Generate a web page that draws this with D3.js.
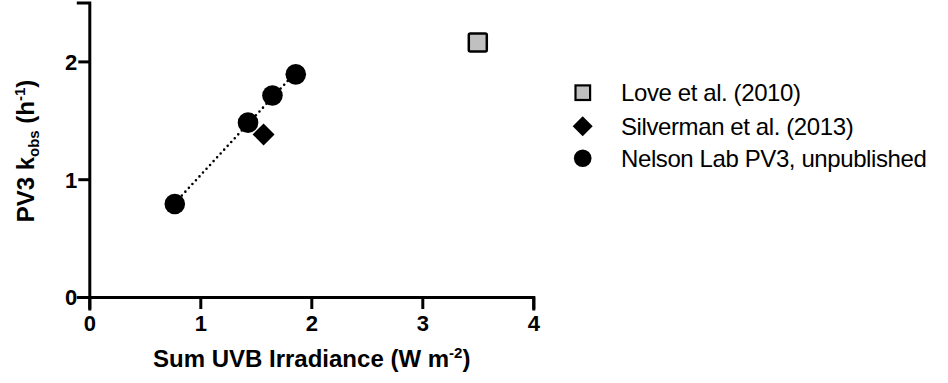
<!DOCTYPE html>
<html>
<head>
<meta charset="utf-8">
<script src="https://cdn.jsdelivr.net/npm/d3@7"></script>
<style>
  body { margin: 0; background: #fff; }
  svg { font-family: "Liberation Sans", Arial, sans-serif; }
</style>
</head>
<body>
<svg></svg>
<script>
// data
let loveX = [3.50]
let loveY = [2.16]
let silvermanX = [1.57]
let silvermanY = [1.38]
let nelsonX = [0.77, 1.43, 1.65, 1.86]
let nelsonY = [0.79, 1.48, 1.71, 1.89]

let xTicks = [0, 1, 2, 3, 4]
let yTicks = [0, 1, 2]
let legendNames = ['Love et al. (2010)', 'Silverman et al. (2013)', 'Nelson Lab PV3, unpublished']

let width = 948
let height = 383

let svg = d3.select('svg')
    .attr('width', width)
    .attr('height', height)

let xScale = d3.scaleLinear().domain([0, 4]).range([89.3, 533.3])
let yScale = d3.scaleLinear().domain([0, 2.5]).range([297, 2.5])

// axes
let xAxis = d3.axisBottom(xScale).tickValues(xTicks).tickSize(12).tickPadding(6).tickFormat(d3.format('d'))
let yAxis = d3.axisLeft(yScale).tickValues(yTicks).tickSize(11).tickPadding(1).tickFormat(d3.format('d'))

let gx = svg.append('g')
    .attr('transform', `translate(0, ${yScale(0)})`)
    .call(xAxis)
let gy = svg.append('g')
    .attr('transform', `translate(${xScale(0)}, 0)`)
    .call(yAxis)

;[gx, gy].forEach(g => {
    g.select('.domain').attr('stroke', '#000').attr('stroke-width', 3).attr('stroke-linecap', 'square')
    g.selectAll('.tick line').attr('stroke', '#000').attr('stroke-width', 3)
    g.selectAll('.tick text')
        .attr('fill', '#000')
        .style('font-size', '22px')
        .style('font-weight', 'bold')
        .style('font-family', '"Liberation Sans", Arial, sans-serif')
})
gy.selectAll('.tick text').attr('dy', '0.36em')

// axis titles
let xt = svg.append('text')
    .attr('x', 311.7)
    .attr('y', 367)
    .attr('text-anchor', 'middle')
    .style('font-size', '24px')
    .style('font-weight', 'bold')
xt.append('tspan').text('Sum UVB Irradiance (W m')
xt.append('tspan').attr('dy', -9).style('font-size', '15px').text('-2')
xt.append('tspan').attr('dy', 9).text(')')

let yt = svg.append('text')
    .attr('transform', 'translate(33.5, 151) rotate(-90)')
    .attr('text-anchor', 'middle')
    .style('font-size', '24px')
    .style('font-weight', 'bold')
yt.append('tspan').text('PV3 k')
yt.append('tspan').attr('dy', 5).style('font-size', '15px').text('obs')
yt.append('tspan').attr('dy', -5).text(' (h')
yt.append('tspan').attr('dy', -9).style('font-size', '15px').text('-1')
yt.append('tspan').attr('dy', 9).text(')')

// regression line through Nelson points
let mx = d3.mean(nelsonX), my = d3.mean(nelsonY)
let slope = d3.sum(nelsonX.map((x, i) => (x - mx) * (nelsonY[i] - my))) / d3.sum(nelsonX.map(x => (x - mx) * (x - mx)))
let icpt = my - slope * mx
let fitX = d3.extent(nelsonX)

svg.append('line')
    .attr('x1', xScale(fitX[0]))
    .attr('y1', yScale(icpt + slope * fitX[0]))
    .attr('x2', xScale(fitX[1]))
    .attr('y2', yScale(icpt + slope * fitX[1]))
    .attr('stroke', '#000')
    .attr('stroke-width', 2.6)
    .attr('stroke-linecap', 'round')
    .attr('stroke-dasharray', '0 5.2')

// markers
svg.selectAll('.love')
    .data(loveX)
    .enter()
    .append('rect')
    .attr('x', (d) => xScale(d) - 9)
    .attr('y', (d, i) => yScale(loveY[i]) - 9)
    .attr('width', 18)
    .attr('height', 18)
    .attr('rx', 1.5)
    .attr('fill', '#c0c0c0')
    .attr('stroke', '#000')
    .attr('stroke-width', 2.5)

svg.selectAll('.silv')
    .data(silvermanX)
    .enter()
    .append('path')
    .attr('d', 'M0,-11L11,0L0,11L-11,0Z')
    .attr('transform', (d, i) => `translate(${xScale(d)}, ${yScale(silvermanY[i])})`)
    .attr('fill', '#000')

svg.selectAll('.nelson')
    .data(nelsonX)
    .enter()
    .append('circle')
    .attr('cx', (d) => xScale(d))
    .attr('cy', (d, i) => yScale(nelsonY[i]))
    .attr('r', 10.3)
    .attr('fill', '#000')

// legend
let legend = svg.append('g')
let rowY = [92.7, 126.2, 158.3]
legend.append('rect')
    .attr('x', 575.5).attr('y', rowY[0] - 7.3)
    .attr('width', 14.6).attr('height', 14.6)
    .attr('fill', '#c0c0c0').attr('stroke', '#000').attr('stroke-width', 2.2)
legend.append('path')
    .attr('d', 'M0,-10L10,0L0,10L-10,0Z')
    .attr('transform', `translate(582.7, ${rowY[1]})`)
    .attr('fill', '#000')
legend.append('circle')
    .attr('cx', 582.7).attr('cy', rowY[2]).attr('r', 8.8)
    .attr('fill', '#000')

legend.selectAll('.lt')
    .data(legendNames)
    .enter()
    .append('text')
    .attr('x', 621)
    .attr('y', (d, i) => rowY[i])
    .attr('dy', '0.36em')
    .style('font-size', '24px')
    .style('letter-spacing', '-0.4px')
    .text((d) => d)
</script>
</body>
</html>
